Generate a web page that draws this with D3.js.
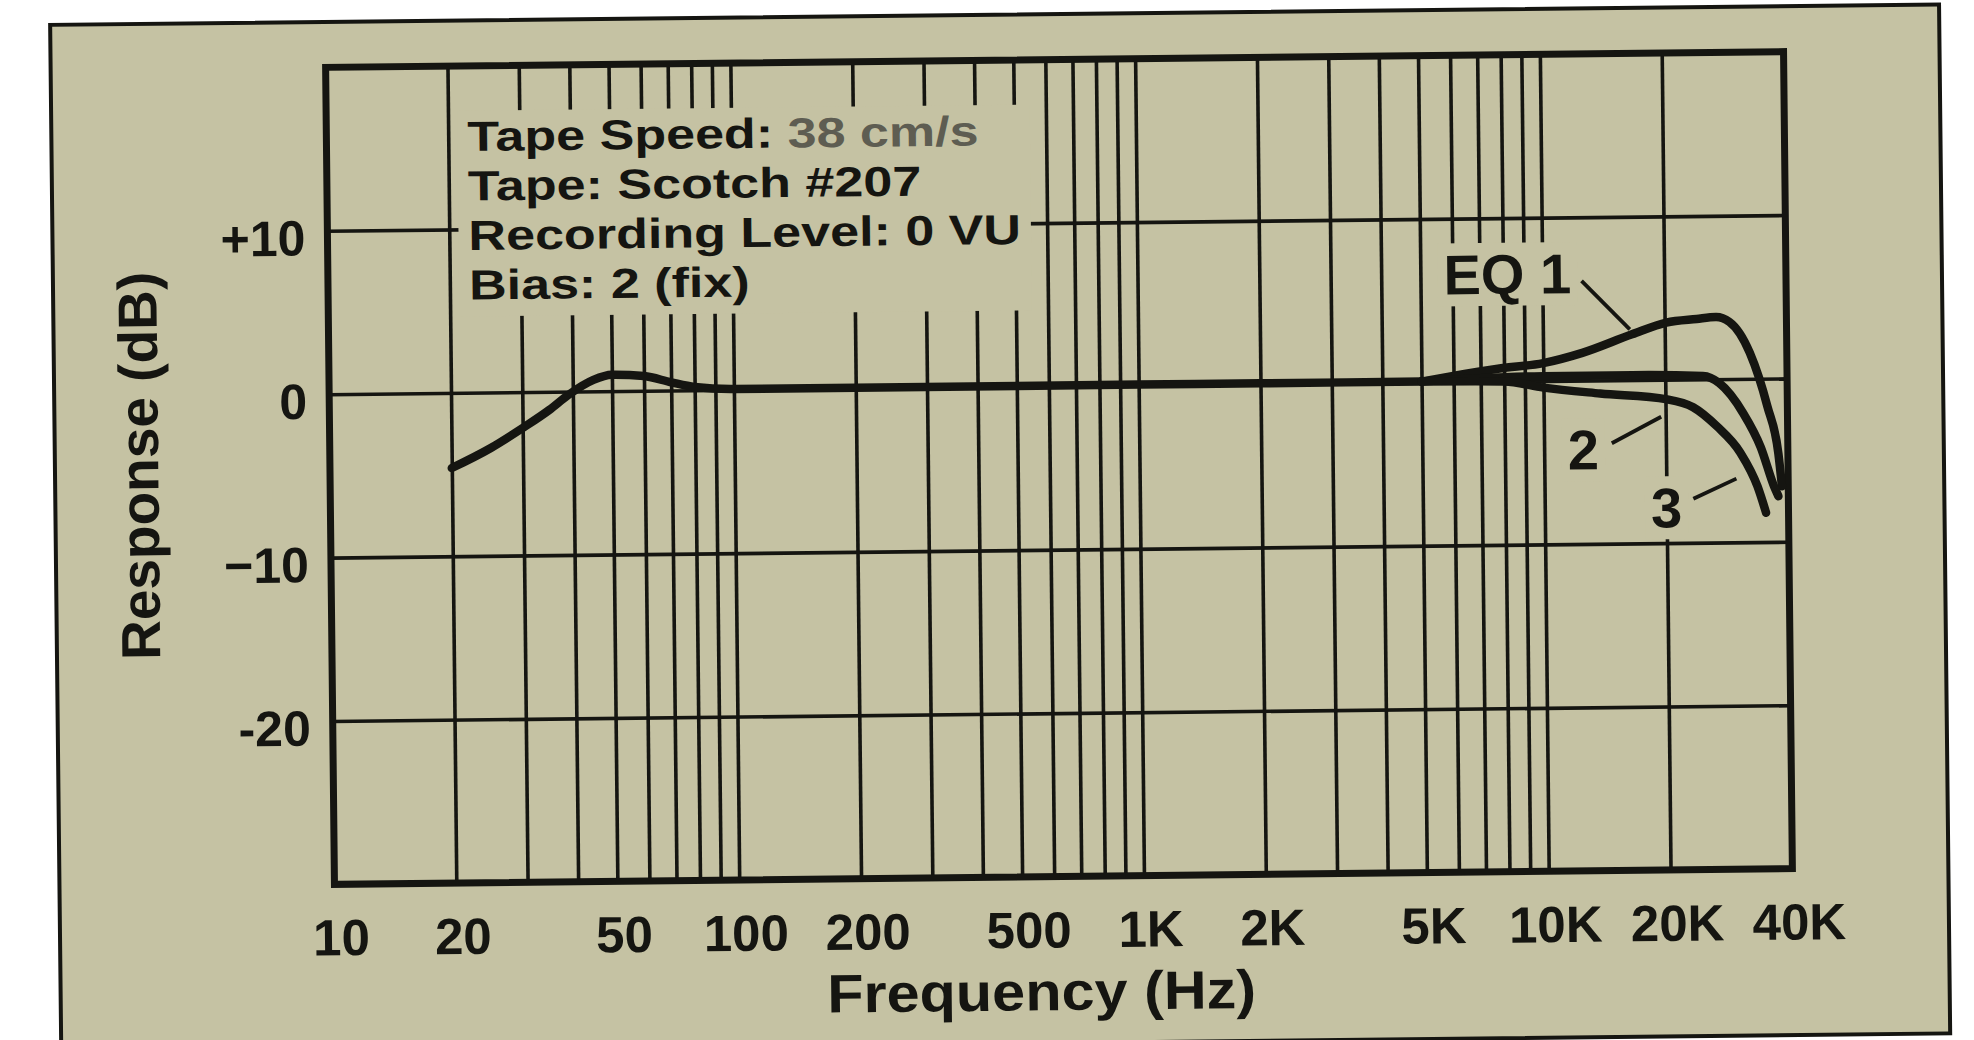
<!DOCTYPE html>
<html><head><meta charset="utf-8">
<script src="https://cdn.jsdelivr.net/npm/d3@7"></script>
<style>
html,body{margin:0;padding:0;background:#fff;}
svg{display:block;}
text{font-family:"Liberation Sans", Arial, Helvetica, sans-serif;font-weight:bold;fill:#151511;}
</style></head><body>
<svg id="chart" width="1974" height="1040"></svg>
<script>
// ---- data ----
const xTickValues = [10, 20, 50, 100, 200, 500, 1000, 2000, 5000, 10000, 20000, 40000];
const xTickLabels = ["10", "20", "50", "100", "200", "500", "1K", "2K", "5K", "10K", "20K", "40K"];
const xGridValues = [20, 30, 40, 50, 60, 70, 80, 90, 100, 200, 300, 400, 500, 600, 700, 800, 900,
                     1000, 2000, 3000, 4000, 5000, 6000, 7000, 8000, 9000, 10000, 20000];
const yTickValues = [10, 0, -10, -20];
const yTickLabels = ["+10", "0", "\u221210", "-20"];

// common response (all EQ settings) 20 Hz - 5 kHz
const baseFreq = [20, 25, 30, 35, 39, 45, 50, 60, 70, 80, 100, 200, 500, 1000, 2000, 5000];
const baseResp = [-4.6, -3.4, -2.2, -1.1, -0.2, 0.7, 1.0, 0.9, 0.5, 0.2, 0.05, 0.05, 0.05, 0.05, 0.05, 0.05];
// high-frequency tails
const eq1Freq = [5000, 5900, 7800, 10000, 12500, 16600, 20200, 24000, 26800, 28900, 32400, 35700, 37900, 38600];
const eq1Resp = [0.05, 0.35, 0.8, 1.1, 1.7, 2.8, 3.5, 3.7, 3.8, 3.5, 1.6, -1.7, -4.6, -6.6];
const eq2Freq = [5000, 10000, 16600, 24800, 27200, 31100, 34300, 36900, 37800];
const eq2Resp = [0.05, 0.3, 0.3, 0.2, -0.25, -2.1, -4.2, -6.6, -7.2];
const eq3Freq = [5000, 8000, 10000, 13800, 20200, 23400, 26800, 30500, 33600, 35200];
const eq3Resp = [0.05, 0.0, -0.4, -0.8, -1.2, -1.7, -2.9, -4.5, -6.6, -8.2];

const infoLabels = ["Tape Speed: ", "Tape: Scotch #207", "Recording Level: 0 VU", "Bias: 2 (fix)"];
const infoFaded = ["38 cm/s", "", "", ""];
const curveLabels = ["EQ 1", "2", "3"];
const labelFreq = [8200, 12500, 20000];
const labelResp = [6.6, -4.2, -7.8];
const leaderFreq = [[12500, 16400], [14700, 19500], [23300, 29800]];
const leaderResp = [[6.1, 3.1], [-3.85, -2.26], [-7.3, -6.1]];

// ---- layout ----
const PAPER = "#c5c2a3", INK = "#151511", FADED = "#5e5d52";
const L = 330, R = 1788, T = 59.5, B = 876.5;
const svg = d3.select("#chart");
const g = svg.append("g").attr("transform", "rotate(-0.62,1059,468)");

const x = d3.scaleLog().domain([10, 40000]).range([L, R]);
const y = d3.scaleLinear().domain([-30, 20]).range([B, T]);

// paper + outer frame
g.append("rect").attr("x", 55).attr("y", 14).attr("width", 1889).attr("height", 1029)
  .attr("fill", PAPER).attr("stroke", INK).attr("stroke-width", 4);

// vertical grid
const gx = g.append("g").attr("transform", `translate(0,${T})`)
  .call(d3.axisTop(x).tickValues(xGridValues).tickSize(-(B - T)).tickFormat(""));
gx.select(".domain").remove();
gx.selectAll("line").attr("stroke", INK).attr("stroke-width", 3.6);

// horizontal grid
const gy = g.append("g").attr("transform", `translate(${L},0)`)
  .call(d3.axisLeft(y).tickValues(yTickValues).tickSize(-(R - L)).tickFormat(""));
gy.select(".domain").remove();
gy.selectAll("line").attr("stroke", INK).attr("stroke-width", 3.6);

// info block with one knockout box behind it
const info = g.append("g").attr("transform", "translate(471,144.6) scale(1.24,1)");
const infoBg = info.append("rect").attr("fill", PAPER);
const infoText = info.selectAll("text.info").data(infoLabels).join("text")
  .attr("class", "info").attr("x", 0).attr("y", (d, i) => i * 49.5)
  .attr("font-size", 42);
infoText.append("tspan").text(d => d);
infoText.append("tspan").attr("fill", FADED).text((d, i) => infoFaded[i]);
{
  let x0 = Infinity, y0 = Infinity, x1 = -Infinity, y1 = -Infinity;
  infoText.each(function () {
    const b = this.getBBox();
    x0 = Math.min(x0, b.x); y0 = Math.min(y0, b.y);
    x1 = Math.max(x1, b.x + b.width); y1 = Math.max(y1, b.y + b.height);
  });
  infoBg.attr("x", x0 - 8).attr("y", y0 - 2).attr("width", x1 - x0 + 16).attr("height", y1 - y0 + 10);
}

// curve labels with knockout background
const lab = g.append("g");
curveLabels.forEach((t, i) => {
  const tx = lab.append("text").attr("x", x(labelFreq[i])).attr("y", y(labelResp[i]))
    .attr("text-anchor", "middle").attr("dy", "0.36em").attr("font-size", 56).text(t);
  const b = tx.node().getBBox();
  lab.insert("rect", "text").attr("x", b.x - 6).attr("y", b.y)
    .attr("width", b.width + 12).attr("height", b.height).attr("fill", PAPER);
});
leaderFreq.forEach((fr, i) => {
  lab.append("line").attr("x1", x(fr[0])).attr("y1", y(leaderResp[i][0]))
    .attr("x2", x(fr[1])).attr("y2", y(leaderResp[i][1]))
    .attr("stroke", INK).attr("stroke-width", 3.8);
});

// plot border
g.append("rect").attr("x", L).attr("y", T).attr("width", R - L).attr("height", B - T)
  .attr("fill", "none").attr("stroke", INK).attr("stroke-width", 7);

// axis tick labels
const ax = g.append("g").attr("transform", `translate(0,${B})`)
  .call(d3.axisBottom(x).tickValues(xTickValues).tickSize(0).tickFormat((d, i) => xTickLabels[i]));
ax.select(".domain").remove();
ax.selectAll("text").attr("y", 71).attr("dy", 0).attr("dx", 6).attr("font-size", 51)
  .attr("font-family", "'Liberation Sans', Arial, sans-serif").attr("font-weight", "bold").attr("fill", INK);

const ay = g.append("g").attr("transform", `translate(${L},0)`)
  .call(d3.axisLeft(y).tickValues(yTickValues).tickSize(0).tickPadding(22).tickFormat((d, i) => yTickLabels[i]));
ay.select(".domain").remove();
ay.selectAll("text").attr("dy", "0.48em").attr("font-size", 50)
  .attr("font-family", "'Liberation Sans', Arial, sans-serif").attr("font-weight", "bold").attr("fill", INK);

// axis titles
g.append("text").attr("transform", "translate(1036,1010) scale(1.1,1)")
  .attr("text-anchor", "middle").attr("font-size", 54).text("Frequency (Hz)");
g.append("text").attr("transform", "translate(138.5,456) rotate(-90)")
  .attr("text-anchor", "middle").attr("dy", "0.36em").attr("font-size", 55).text("Response (dB)");

// curves
const line = d3.line().x(d => x(d[0])).y(d => y(d[1])).curve(d3.curveMonotoneX);
const series = [
  [baseFreq, baseResp], [eq1Freq, eq1Resp], [eq2Freq, eq2Resp], [eq3Freq, eq3Resp]
];
g.append("g").selectAll("path").data(series).join("path")
  .attr("d", s => line(d3.zip(s[0], s[1])))
  .attr("fill", "none").attr("stroke", INK).attr("stroke-width", 8.5)
  .attr("stroke-linejoin", "round").attr("stroke-linecap", "round");
</script>
</body></html>
